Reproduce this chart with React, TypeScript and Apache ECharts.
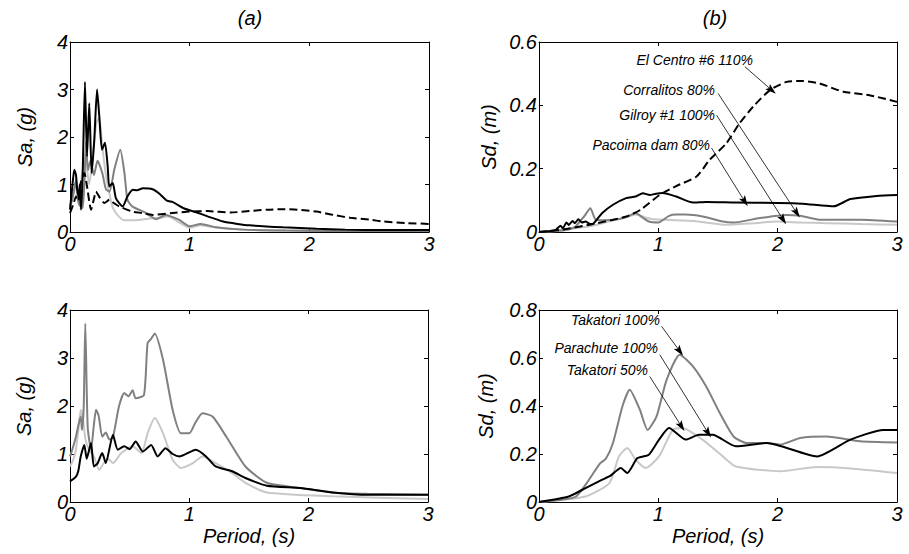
import React, { useEffect, useRef } from "react";
import * as echarts from "echarts";

// ---- Data (Period s, value) ----
const xTicks = [0, 1, 2, 3];
const saTicksMax = 4;

// Panel (a) top: Sa, (g)
const saGilroy: number[][] = [[0,0.5],[0.03,0.8],[0.05,1.0],[0.08,0.7],[0.1,1.2],[0.13,1.5],[0.16,1.0],[0.19,1.6],[0.22,2.3],[0.245,2.4],[0.27,1.8],[0.3,1.2],[0.33,0.8],[0.36,0.5],[0.4,0.35],[0.45,0.25],[0.55,0.25],[0.65,0.28],[0.75,0.30],[0.82,0.33],[0.9,0.22],[1.0,0.09],[1.09,0.14],[1.2,0.10],[1.45,0.05],[2,0.03],[3,0.02]];
const saCorralitos: number[][] = [[0,0.54],[0.02,0.7],[0.035,0.9],[0.05,1.1],[0.065,0.7],[0.08,0.55],[0.095,0.9],[0.106,0.5],[0.12,1.0],[0.134,1.9],[0.15,1.3],[0.17,1.5],[0.2,1.2],[0.23,1.5],[0.27,1.24],[0.3,0.9],[0.33,0.85],[0.37,1.31],[0.42,1.73],[0.455,1.24],[0.48,0.68],[0.52,0.54],[0.635,0.40],[0.72,0.27],[0.80,0.36],[0.84,0.33],[0.91,0.26],[1.0,0.12],[1.09,0.17],[1.22,0.10],[1.45,0.05],[1.8,0.03],[2.3,0.02],[3,0.02]];
const saPacoima: number[][] = [[0,0.47],[0.022,1.03],[0.036,1.31],[0.05,1.2],[0.06,0.9],[0.072,0.75],[0.082,1.0],[0.092,0.47],[0.106,1.24],[0.125,3.16],[0.142,1.59],[0.161,2.71],[0.181,1.24],[0.203,1.94],[0.226,3.0],[0.245,2.43],[0.267,1.73],[0.292,1.88],[0.315,1.38],[0.328,0.96],[0.357,1.03],[0.384,0.71],[0.44,0.54],[0.48,0.75],[0.524,0.89],[0.56,0.88],[0.61,0.92],[0.69,0.9],[0.75,0.8],[0.81,0.66],[0.86,0.63],[0.95,0.50],[1.06,0.41],[1.15,0.33],[1.28,0.22],[1.4,0.17],[1.5,0.14],[1.78,0.10],[2.06,0.07],[2.3,0.05],[2.62,0.04],[3,0.04]];
const saElCentro: number[][] = [[0,0.40],[0.03,0.6],[0.05,0.75],[0.07,0.65],[0.09,1.03],[0.12,1.24],[0.14,1.0],[0.176,0.47],[0.2,0.7],[0.217,0.85],[0.25,0.72],[0.287,0.61],[0.33,0.68],[0.36,0.62],[0.41,0.54],[0.52,0.43],[0.6,0.40],[0.69,0.36],[0.86,0.40],[1.0,0.43],[1.15,0.44],[1.34,0.41],[1.5,0.44],[1.65,0.47],[1.78,0.48],[1.9,0.47],[2.06,0.43],[2.2,0.36],[2.34,0.30],[2.5,0.26],[2.62,0.22],[2.8,0.19],[3,0.17]];

// Panel (b) top: Sd, (m)
const sdGilroy: number[][] = [[0,0],[0.3,0.012],[0.45,0.02],[0.6,0.035],[0.72,0.045],[0.81,0.055],[0.9,0.045],[0.96,0.04],[1.1,0.038],[1.3,0.035],[1.57,0.023],[1.8,0.028],[2.0,0.033],[2.2,0.03],[2.41,0.028],[2.7,0.025],[3,0.023]];
const sdCorralitos: number[][] = [[0,0],[0.2,0.005],[0.3,0.015],[0.335,0.03],[0.38,0.05],[0.43,0.075],[0.475,0.039],[0.55,0.037],[0.67,0.041],[0.75,0.05],[0.81,0.06],[0.87,0.045],[0.92,0.033],[1.0,0.03],[1.09,0.051],[1.15,0.055],[1.23,0.055],[1.37,0.049],[1.54,0.033],[1.63,0.030],[1.85,0.044],[2.075,0.054],[2.19,0.051],[2.35,0.039],[2.69,0.039],[3,0.033]];
const sdPacoima: number[][] = [[0,0],[0.1,0.003],[0.14,0.007],[0.18,0.02],[0.2,0.012],[0.23,0.03],[0.25,0.022],[0.28,0.035],[0.3,0.028],[0.33,0.04],[0.36,0.03],[0.39,0.033],[0.43,0.025],[0.46,0.028],[0.53,0.06],[0.62,0.086],[0.73,0.107],[0.81,0.112],[0.87,0.122],[0.93,0.117],[0.97,0.12],[1.035,0.123],[1.15,0.112],[1.29,0.093],[1.4,0.095],[1.65,0.093],[2.13,0.091],[2.41,0.083],[2.47,0.081],[2.61,0.104],[2.83,0.114],[3,0.117]];
const sdElCentro: number[][] = [[0,0],[0.2,0.008],[0.425,0.023],[0.733,0.049],[0.85,0.07],[1.012,0.117],[1.15,0.145],[1.32,0.175],[1.43,0.228],[1.57,0.28],[1.68,0.343],[1.795,0.396],[1.935,0.448],[2.075,0.474],[2.21,0.477],[2.35,0.469],[2.55,0.443],[2.77,0.432],[3,0.411]];

// Bottom-left: Sa, (g)
const saTakatori50: number[][] = [[0,0.74],[0.03,0.9],[0.05,1.1],[0.07,1.5],[0.09,1.92],[0.11,1.7],[0.13,1.3],[0.16,1.09],[0.2,0.95],[0.245,0.67],[0.28,0.8],[0.32,0.9],[0.36,0.81],[0.43,1.02],[0.525,1.16],[0.6,1.02],[0.65,1.43],[0.71,1.75],[0.78,1.43],[0.86,0.88],[0.93,0.71],[1.03,0.81],[1.11,0.95],[1.22,0.81],[1.36,0.60],[1.47,0.40],[1.65,0.20],[2.2,0.12],[3,0.06]];
const saTakatori100: number[][] = [[0,0.95],[0.02,1.1],[0.05,1.36],[0.07,1.6],[0.09,1.78],[0.1,1.5],[0.115,2.0],[0.128,3.72],[0.148,1.57],[0.176,1.09],[0.2,1.6],[0.218,1.92],[0.24,1.8],[0.27,1.36],[0.3,1.45],[0.33,1.30],[0.36,1.35],[0.41,1.99],[0.455,2.27],[0.49,2.2],[0.525,2.33],[0.55,2.16],[0.62,2.23],[0.65,3.31],[0.68,3.4],[0.71,3.51],[0.78,2.96],[0.86,1.92],[0.93,1.43],[1.0,1.43],[1.05,1.65],[1.11,1.85],[1.195,1.78],[1.31,1.36],[1.47,0.74],[1.65,0.40],[1.93,0.29],[2.2,0.20],[2.49,0.17],[3,0.15]];
const saParachute: number[][] = [[0,0.43],[0.05,0.53],[0.07,0.65],[0.09,0.95],[0.12,1.19],[0.14,0.9],[0.176,1.23],[0.2,0.74],[0.23,0.8],[0.27,1.02],[0.3,0.81],[0.36,1.40],[0.40,1.09],[0.455,1.16],[0.5,1.1],[0.55,1.26],[0.61,1.05],[0.68,1.19],[0.735,0.95],[0.80,1.12],[0.86,1.0],[0.92,0.95],[1.055,1.09],[1.14,0.95],[1.22,0.74],[1.36,0.64],[1.47,0.50],[1.65,0.34],[1.93,0.29],[2.2,0.20],[2.49,0.15],[3,0.15]];

// Bottom-right: Sd, (m)
const sdTakatori50: number[][] = [[0,0],[0.39,0.023],[0.59,0.079],[0.67,0.19],[0.74,0.225],[0.81,0.176],[0.895,0.142],[1.006,0.19],[1.12,0.30],[1.2,0.308],[1.37,0.26],[1.54,0.19],[1.65,0.148],[2.02,0.128],[2.33,0.146],[2.61,0.14],[3,0.121]];
const sdTakatori100: number[][] = [[0,0],[0.2,0.01],[0.31,0.023],[0.40,0.079],[0.51,0.16],[0.56,0.18],[0.62,0.246],[0.70,0.40],[0.76,0.468],[0.845,0.385],[0.91,0.30],[0.985,0.357],[1.07,0.51],[1.18,0.614],[1.29,0.565],[1.40,0.482],[1.515,0.371],[1.63,0.273],[1.74,0.246],[1.91,0.246],[2.02,0.239],[2.19,0.267],[2.41,0.273],[2.69,0.253],[3,0.248]];
const sdParachute: number[][] = [[0,0],[0.25,0.023],[0.39,0.058],[0.53,0.093],[0.6,0.11],[0.685,0.142],[0.74,0.121],[0.825,0.183],[0.92,0.197],[1.006,0.26],[1.09,0.308],[1.23,0.26],[1.34,0.28],[1.455,0.28],[1.65,0.232],[1.91,0.246],[2.33,0.19],[2.61,0.26],[2.885,0.30],[3,0.30]];

// Annotations: label, arrow start [T, value], arrow end [T, value]
const topLabels = ["El Centro #6 110%", "Corralitos 80%", "Gilroy #1 100%", "Pacoima dam 80%"];
const topArrows: number[][][] = [
  [[1.725, 0.522], [1.95, 0.448]],
  [[1.50, 0.438], [2.16, 0.060]],
  [[1.488, 0.369], [2.046, 0.039]],
  [[1.446, 0.265], [1.725, 0.096]],
];
const bottomLabels = ["Takatori 100%", "Parachute 100%", "Takatori 50%"];
const bottomArrows: number[][][] = [
  [[1.027, 0.732], [1.18, 0.628]],
  [[1.012, 0.614], [1.417, 0.288]],
  [[0.928, 0.523], [1.194, 0.315]],
];

const FONT = "'Liberation Sans', Arial, sans-serif";
const BLACK = "#000000";
const DARK = "#808080";
const LIGHT = "#c8c8c8";

export default function App() {
  const ref = useRef<HTMLDivElement>(null);
  useEffect(() => {
    if (!ref.current) return;
    const chart = echarts.init(ref.current, null, { renderer: "svg" });

    const grids = [
      { left: 70, top: 42, width: 359, height: 190 },
      { left: 539, top: 42, width: 358, height: 190 },
      { left: 70, top: 310, width: 358, height: 192 },
      { left: 539, top: 310, width: 358, height: 192 },
    ];
    const labelStyle = { fontSize: 20, fontStyle: "italic" as const, fontFamily: FONT, color: BLACK };
    const xAxes: any[] = [];
    const yAxes: any[] = [];
    const yCfg = [
      { max: saTicksMax, interval: 1, name: "Sa, (g)", gap: 35 },
      { max: 0.6, interval: 0.2, name: "Sd, (m)", gap: 40 },
      { max: saTicksMax, interval: 1, name: "Sa, (g)", gap: 36 },
      { max: 0.8, interval: 0.2, name: "Sd, (m)", gap: 43 },
    ];
    grids.forEach((_, i) => {
      const bottomPanel = i >= 2;
      xAxes.push({
        type: "value", gridIndex: i, min: xTicks[0], max: xTicks[xTicks.length - 1], interval: 1,
        position: "bottom",
        name: bottomPanel ? "Period, (s)" : "", nameLocation: "middle", nameGap: 24,
        nameTextStyle: labelStyle,
        axisLine: { show: true, onZero: false, lineStyle: { color: BLACK, width: 1 } },
        axisTick: { show: true, inside: true, length: 4, lineStyle: { color: BLACK } },
        axisLabel: { ...labelStyle, margin: 2 },
        splitLine: { show: false },
      });
      xAxes.push({
        type: "value", gridIndex: i, min: 0, max: 3, interval: 1, position: "top",
        axisLine: { show: true, onZero: false, lineStyle: { color: BLACK, width: 1 } },
        axisTick: { show: true, inside: true, length: 4, lineStyle: { color: BLACK } },
        axisLabel: { show: false }, splitLine: { show: false },
      });
      const c = yCfg[i];
      yAxes.push({
        type: "value", gridIndex: i, min: 0, max: c.max, interval: c.interval, position: "left",
        name: c.name, nameLocation: "middle", nameGap: c.gap, nameRotate: 90,
        nameTextStyle: labelStyle,
        axisLine: { show: true, onZero: false, lineStyle: { color: BLACK, width: 1 } },
        axisTick: { show: true, inside: true, length: 4, lineStyle: { color: BLACK } },
        axisLabel: { ...labelStyle, margin: 2 },
        splitLine: { show: false },
      });
      yAxes.push({
        type: "value", gridIndex: i, min: 0, max: c.max, interval: c.interval, position: "right",
        axisLine: { show: true, onZero: false, lineStyle: { color: BLACK, width: 1 } },
        axisTick: { show: true, inside: true, length: 4, lineStyle: { color: BLACK } },
        axisLabel: { show: false }, splitLine: { show: false },
      });
    });

    const line = (data: number[][], g: number, color: string, dashed = false, extra: any = {}) => ({
      type: "line", xAxisIndex: g * 2, yAxisIndex: g * 2, data,
      showSymbol: false, symbol: "none", smooth: 0.2, clip: true,
      lineStyle: { color, width: 2, type: dashed ? [8, 4] : "solid" },
      silent: true, z: 2,
      ...extra,
    });
    const arrowHead = "path://M5,0 L10,14 L5,11 L0,14 Z";
    const arrows = (list: number[][][]) => ({
      silent: true, symbol: ["none", arrowHead], symbolSize: [7, 11],
      lineStyle: { color: BLACK, width: 0.8, type: "solid" },
      label: { show: false },
      data: list.map((a) => [{ coord: a[0] }, { coord: a[1] }]),
    });

    const series = [
      line(saGilroy, 0, LIGHT),
      line(saCorralitos, 0, DARK),
      line(saPacoima, 0, BLACK),
      line(saElCentro, 0, BLACK, true),
      line(sdGilroy, 1, LIGHT),
      line(sdCorralitos, 1, DARK),
      line(sdPacoima, 1, BLACK),
      line(sdElCentro, 1, BLACK, true, { markLine: arrows(topArrows) }),
      line(saTakatori50, 2, LIGHT),
      line(saTakatori100, 2, DARK),
      line(saParachute, 2, BLACK),
      line(sdTakatori50, 3, LIGHT),
      line(sdTakatori100, 3, DARK),
      line(sdParachute, 3, BLACK, false, { markLine: arrows(bottomArrows) }),
    ];

    const annStyle = { fontSize: 14, fontStyle: "italic", fontFamily: FONT, fill: BLACK };
    const topPos = [[753, 60], [715, 90], [715, 115], [710, 145]];
    const botPos = [[660, 320], [658, 348], [648, 370]];
    const graphic: any[] = [
      { type: "text", x: 250, y: 18, style: { text: "(a)", fontSize: 20, fontStyle: "italic", fontFamily: FONT, fill: BLACK, textAlign: "center", textVerticalAlign: "middle" } },
      { type: "text", x: 715, y: 18, style: { text: "(b)", fontSize: 20, fontStyle: "italic", fontFamily: FONT, fill: BLACK, textAlign: "center", textVerticalAlign: "middle" } },
      ...topLabels.map((t, i) => ({ type: "text", x: topPos[i][0], y: topPos[i][1], style: { ...annStyle, text: t, textAlign: "right", textVerticalAlign: "middle" } })),
      ...bottomLabels.map((t, i) => ({ type: "text", x: botPos[i][0], y: botPos[i][1], style: { ...annStyle, text: t, textAlign: "right", textVerticalAlign: "middle" } })),
    ];

    chart.setOption({
      animation: false,
      backgroundColor: "#ffffff",
      grid: grids,
      xAxis: xAxes,
      yAxis: yAxes,
      series,
      graphic,
    });
    return () => chart.dispose();
  }, []);
  return <div ref={ref} style={{ position: "fixed", left: 0, top: 0, width: 909, height: 554 }} />;
}
